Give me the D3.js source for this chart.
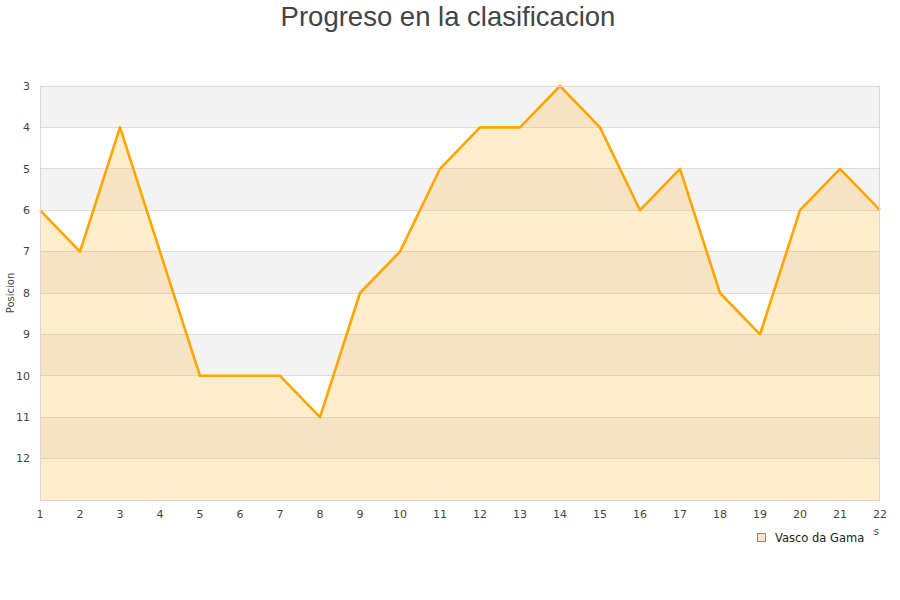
<!DOCTYPE html>
<html><head><meta charset="utf-8">
<script src="https://cdn.jsdelivr.net/npm/d3@7"></script>
<style>body{margin:0;background:#fff}svg{display:block}</style>
</head><body><svg id="c" width="900" height="600"></svg>
<script>
const title = "Progreso en la clasificacion";
const seriesName = "Vasco da Gama";
const jornadas = [1,2,3,4,5,6,7,8,9,10,11,12,13,14,15,16,17,18,19,20,21,22];
const posiciones = [6,7,4,7,10,10,10,11,8,7,5,4,4,3,4,6,5,8,9,6,5,6];
const yTicks = [3,4,5,6,7,8,9,10,11,12];
const yAxisTitle = "Posicion";
const xAxisTitle = "Jornadas";

const svg = d3.select("#c");
const L = 40, R = 880, T = 86, B = 500;
const x = d3.scaleLinear().domain([1,22]).range([L,R]);
const y = d3.scaleLinear().domain([3,13]).range([T,B]);

// bands
const bands = d3.range(3,13);
svg.append("g").selectAll("rect").data(bands).join("rect")
  .attr("x",L).attr("width",R-L)
  .attr("y",d=>y(d)).attr("height",d=>y(d+1)-y(d))
  .attr("fill",d=>d%2===1?"#f3f3f3":"#ffffff");

// grid
svg.append("g").selectAll("line").data(yTicks.slice(1)).join("line")
  .attr("x1",L).attr("x2",R).attr("y1",d=>y(d)).attr("y2",d=>y(d))
  .attr("stroke","#dedede").attr("stroke-width",1).attr("shape-rendering","crispEdges");

// area
const area = d3.area().x((d,i)=>x(jornadas[i])).y0(y(13)).y1(d=>y(d));
svg.append("path").datum(posiciones).attr("d",area)
  .attr("fill","#FFA500").attr("fill-opacity",0.2);
const line = d3.line().x((d,i)=>x(jornadas[i])).y(d=>y(d));
svg.append("path").datum(posiciones).attr("d",line)
  .attr("fill","none").attr("stroke","#FFA500").attr("stroke-width",2.6).attr("stroke-linejoin","round");

// border
svg.append("rect").attr("x",L+0.5).attr("y",T+0.5).attr("width",R-L-1).attr("height",B-T)
  .attr("fill","none").attr("stroke","#d9d9d9").attr("shape-rendering","crispEdges");

// y axis labels
svg.append("g").selectAll("text").data(yTicks).join("text")
  .attr("x",30).attr("y",d=>y(d)).attr("dy","0.35em").attr("text-anchor","end")
  .attr("font-family","DejaVu Sans").attr("font-size",11).attr("fill","#444").text(d=>d);
// x axis labels
svg.append("g").selectAll("text").data(jornadas).join("text")
  .attr("x",d=>x(d)).attr("y",514).attr("dy","0.35em").attr("text-anchor","middle")
  .attr("font-family","DejaVu Sans").attr("font-size",11).attr("fill","#444").text(d=>d);

svg.append("text").attr("transform","translate(14,293) rotate(-90)").attr("text-anchor","middle")
  .attr("font-family","DejaVu Sans").attr("font-size",10).attr("fill","#444").text(yAxisTitle);

// x axis title (partly hidden behind legend)
svg.append("text").attr("x",879).attr("y",535).attr("text-anchor","end")
  .attr("font-family","DejaVu Sans").attr("font-size",10).attr("fill","#444").text(xAxisTitle);

// legend
svg.append("rect").attr("x",745).attr("y",527).attr("width",128).attr("height",20).attr("fill","#fff");
svg.append("rect").attr("x",757.5).attr("y",533.5).attr("width",8).attr("height",8)
  .attr("fill","#fde6c0").attr("stroke","#888").attr("stroke-width",1);
svg.append("text").attr("x",775).attr("y",537.5).attr("dy","0.35em")
  .attr("font-family","DejaVu Sans").attr("font-size",11.5).attr("fill","#222").text(seriesName);

svg.append("text").attr("x",448).attr("y",16).attr("dy","0.35em").attr("text-anchor","middle")
  .attr("font-family","Liberation Sans, Arial").attr("font-size",27.5).attr("fill","#444").text(title);
</script></body></html>
